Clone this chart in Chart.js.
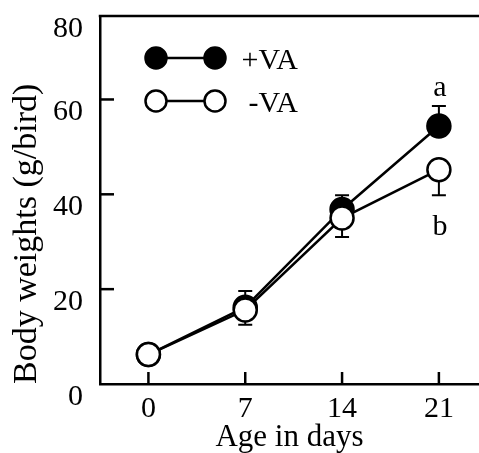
<!DOCTYPE html>
<html>
<head>
<meta charset="utf-8">
<script src="https://cdn.jsdelivr.net/npm/chart.js@4.4.1/dist/chart.umd.min.js"></script>
<style>
  html, body { margin: 0; padding: 0; background: #ffffff; }
  #wrap { width: 479px; height: 453px; }
</style>
</head>
<body>
<div id="wrap"><canvas id="c" width="479" height="453"></canvas></div>
<script>
// ---- data ----
const days = [0, 7, 14, 21];
const plusVA = [6.2, 16.2, 36.8, 54.4];
const plusVAErr = [0, 3.4, 3.0, 4.2];     // upward bars
const minusVA = [6.2, 15.6, 35.0, 45.2];
const minusVAErr = [0, 3.1, 4.0, 5.4];    // downward bars
const seriesLabels = ['+VA', '-VA'];
const xTickValues = [0, 7, 14, 21];
const yTickValues = [0, 20, 40, 60, 80];
const yTickLabels = ['0', '20', '40', '60', '80'];
const sigLetters = ['a', 'b'];
const xTitle = 'Age in days';
const yTitle = 'Body weights (g/bird)';

const SERIF = '"Liberation Serif", "Times New Roman", serif';
const errSets = [plusVAErr, minusVAErr];
const errDir = [1, -1];
const valSets = [plusVA, minusVA];

function noPad(s) { s.paddingTop = 0; s.paddingBottom = 0; s.paddingLeft = 0; s.paddingRight = 0; }

const decor = {
  id: 'decor',
  beforeDatasetsDraw(chart) {
    const ctx = chart.ctx, xs = chart.scales.x, ys = chart.scales.y;
    ctx.save();
    ctx.strokeStyle = '#000';
    ctx.lineWidth = 2;
    valSets.forEach((vals, i) => {
      vals.forEach((v, j) => {
        const e = errSets[i][j];
        if (!e) return;
        const x = xs.getPixelForValue(days[j]);
        const y0 = ys.getPixelForValue(v);
        const y1 = ys.getPixelForValue(v + errDir[i] * e);
        ctx.beginPath();
        ctx.moveTo(x, y0); ctx.lineTo(x, y1);
        ctx.moveTo(x - 7, y1); ctx.lineTo(x + 7, y1);
        ctx.stroke();
      });
    });
    ctx.restore();
  },
  afterDraw(chart) {
    const ctx = chart.ctx, xs = chart.scales.x, ys = chart.scales.y;
    const a = chart.chartArea;
    ctx.save();
    ctx.strokeStyle = '#000';
    ctx.lineWidth = 2.5;
    // top frame line
    ctx.beginPath();
    ctx.moveTo(a.left - 1.25, a.top); ctx.lineTo(a.right, a.top);
    ctx.stroke();
    // inward ticks
    xTickValues.forEach(v => {
      const x = xs.getPixelForValue(v);
      ctx.beginPath(); ctx.moveTo(x, a.bottom); ctx.lineTo(x, a.bottom - 12); ctx.stroke();
    });
    yTickValues.forEach(v => {
      if (v <= ys.min || v >= ys.max) return;
      const y = ys.getPixelForValue(v);
      ctx.beginPath(); ctx.moveTo(a.left, y); ctx.lineTo(a.left + 14, y); ctx.stroke();
    });
    // legend
    const rows = [58, 101];
    chart.data.datasets.forEach((ds, i) => {
      const y = rows[i];
      ctx.lineWidth = 2.5;
      ctx.beginPath(); ctx.moveTo(156, y); ctx.lineTo(215, y); ctx.stroke();
      [156, 215].forEach(cx => {
        ctx.beginPath(); ctx.arc(cx, y, 10.5, 0, Math.PI * 2);
        ctx.fillStyle = ds.pointBackgroundColor; ctx.fill();
        ctx.lineWidth = 2.5; ctx.stroke();
      });
      ctx.fillStyle = '#000';
      ctx.font = '30px ' + SERIF;
      ctx.textAlign = 'right';
      ctx.textBaseline = 'middle';
      ctx.fillText(ds.label, 298, y + 3);
    });
    // significance letters
    ctx.font = '30px ' + SERIF;
    ctx.textAlign = 'center';
    ctx.textBaseline = 'alphabetic';
    const last = days.length - 1;
    const xl = xs.getPixelForValue(days[last]);
    const ya = ys.getPixelForValue(plusVA[last] + plusVAErr[last]);
    const yb = ys.getPixelForValue(minusVA[last] - minusVAErr[last]);
    ctx.fillText(sigLetters[0], xl + 1, ya - 10);
    ctx.fillText(sigLetters[1], xl + 1, yb + 40);
    ctx.restore();
  }
};

new Chart(document.getElementById('c'), {
  type: 'line',
  data: {
    datasets: [
      {
        label: seriesLabels[0],
        data: days.map((d, i) => ({ x: d, y: plusVA[i] })),
        borderColor: '#000', borderWidth: 2.5,
        pointRadius: 11.5, pointBorderWidth: 2.5,
        pointBackgroundColor: '#000', pointBorderColor: '#000',
        order: 1
      },
      {
        label: seriesLabels[1],
        data: days.map((d, i) => ({ x: d, y: minusVA[i] })),
        borderColor: '#000', borderWidth: 2.5,
        pointRadius: 11.5, pointBorderWidth: 2.5,
        pointBackgroundColor: '#fff', pointBorderColor: '#000',
        order: 0
      }
    ]
  },
  options: {
    responsive: false,
    animation: false,
    events: [],
    layout: { autoPadding: false, padding: { top: 16, right: 0, bottom: 0, left: 0 } },
    plugins: { legend: { display: false }, tooltip: { enabled: false } },
    scales: {
      x: {
        type: 'linear',
        min: -3.5, max: 23.9,
        afterBuildTicks: s => { s.ticks = xTickValues.map(v => ({ value: v })); },
        afterFit: s => { s.height = 69; noPad(s); },
        grid: { display: false, drawTicks: false },
        border: { display: true, color: '#000', width: 2.5 },
        ticks: {
          color: '#000', padding: 10,
          font: { family: SERIF, size: 30, lineHeight: 1 },
          maxRotation: 0, autoSkip: false
        },
        title: {
          display: true, text: xTitle, color: '#000',
          font: { family: SERIF, size: 31, lineHeight: 1 },
          padding: { top: 0, bottom: 0 }
        }
      },
      y: {
        type: 'linear',
        min: 0, max: 77.6,
        afterBuildTicks: s => { s.ticks = yTickValues.map(v => ({ value: Math.min(v, s.max) })); },
        afterFit: s => { s.width = 100; noPad(s); },
        grid: { display: false, drawTicks: false },
        border: { display: true, color: '#000', width: 2.5 },
        ticks: {
          color: '#000', padding: 17, labelOffset: 13,
          font: { family: SERIF, size: 30, lineHeight: 1 },
          autoSkip: false,
          callback: (v, i) => yTickLabels[i]
        },
        title: {
          display: true, text: yTitle, color: '#000', align: 'start',
          font: { family: SERIF, size: 34, lineHeight: 1 },
          padding: { top: 10, bottom: 0 }
        }
      }
    }
  },
  plugins: [decor]
});
</script>
</body>
</html>
